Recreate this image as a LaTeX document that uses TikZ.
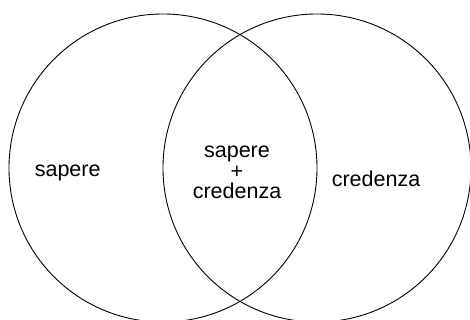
\documentclass[tikz,border=0pt]{standalone}
\usepackage{fontspec}
\setmainfont{Liberation Sans}
\tikzset{
  set/.style={draw=black, line width=0.9pt},
  lbl/.style={font=\fontsize{21.5}{20.7}\selectfont, inner sep=0pt, anchor=base, align=center}
}
\begin{document}
\begin{tikzpicture}[x=1pt, y=1pt]
  \useasboundingbox (0,0) rectangle (470,320);
  % the two overlapping sets
  \draw[set] (163,152) circle[radius=154];
  \draw[set] (317,152) circle[radius=154];
  % labels
  \node[lbl] (know) at (67.7,143.3) {sapere};
  \node[lbl] (belief) at (376,133.3) {credenza};
  % base anchor sits on the last line of a multi-line node
  \node[lbl] (both) at (237,121) {sapere\\+\\credenza};
\end{tikzpicture}
\end{document}
